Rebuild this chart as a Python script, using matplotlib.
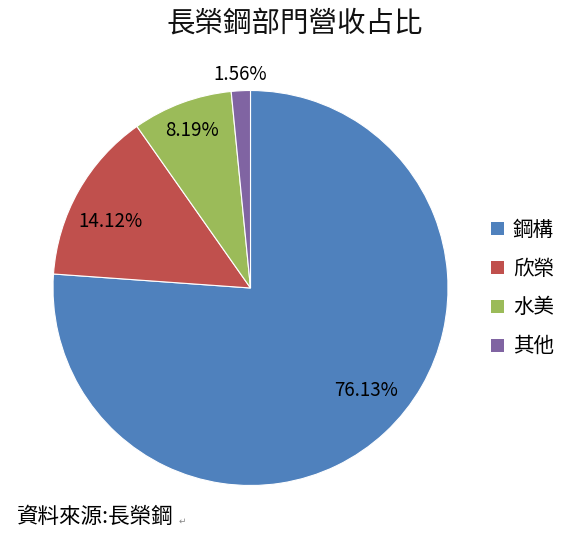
import numpy as np
import matplotlib.pyplot as plt
from matplotlib.patches import Patch

plt.rcParams['font.family'] = ['Noto Sans CJK TC', 'DejaVu Sans']

# data
segments = ['鋼構', '欣榮', '水美', '其他']
shares = [76.13, 14.12, 8.19, 1.56]
colors = ['#4F81BD', '#C0504D', '#9BBB59', '#8064A2']
label_r = [0.78, 0.785, 0.85, 1.08]   # radial position of each % label
label_shift = [5.5, 4.0, 0.0, 0.0]    # small angular nudge (deg)

W, H = 577, 541
fig = plt.figure(figsize=(W / 100, H / 100), dpi=100)

# pie axes: centre ~(250, 288) px, radius ~197 px
cx, cy, r = 250.5, 288, 197.5
ax = fig.add_axes([(cx - r) / W, 1 - (cy + r) / H, 2 * r / W, 2 * r / H])
wedges, _ = ax.pie(shares, colors=colors, startangle=90, counterclock=False,
                   radius=1.0, wedgeprops=dict(linewidth=0.8, edgecolor='white'))
ax.set_xlim(-1, 1)
ax.set_ylim(-1, 1)
ax.set_aspect('auto')
ax.axis('off')

for w, v, lr, sh in zip(wedges, shares, label_r, label_shift):
    ang = np.deg2rad((w.theta1 + w.theta2) / 2 + sh)
    ax.text(lr * np.cos(ang), lr * np.sin(ang), f"{v:.2f}%",
            ha='center', va='center', fontsize=13.5, color='black')

fig.text(295 / W, 1 - 24 / H, '長榮鋼部門營收占比', ha='center', va='center',
         fontsize=20.5, color='#111111')

handles = [Patch(facecolor=c, edgecolor='none') for c in colors]
fig.legend(handles, segments, loc='center left', bbox_to_anchor=(481 / W, 1 - 288 / H),
           frameon=False, fontsize=14.8, handlelength=0.6, handleheight=0.6,
           handletextpad=0.45, labelspacing=0.82, borderpad=0)

fig.text(17 / W, 1 - 517 / H, '資料來源:長榮鋼', ha='left', va='center',
         fontsize=15.5, color='black')
fig.text(179 / W, 1 - 521 / H, '↵', ha='left', va='center',
         fontsize=6.5, color='#888888', family=['DejaVu Sans'])

fig.savefig('out.png', dpi=100, facecolor='white')
